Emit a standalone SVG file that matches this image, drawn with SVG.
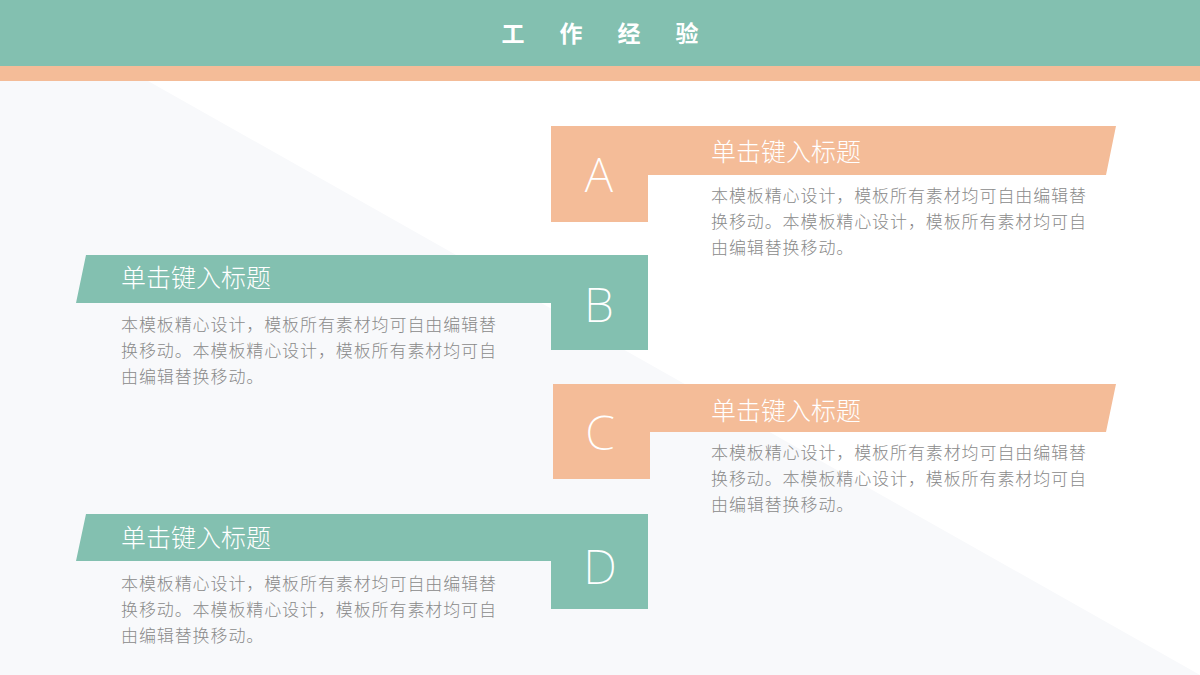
<svg xmlns="http://www.w3.org/2000/svg" width="1200" height="675" viewBox="0 0 1200 675">
<style>
.teal{fill:#83c0b0}
.orange{fill:#f4bc98}
.letter{font-family:"Noto Sans","Noto Sans CJK SC",sans-serif;font-weight:200;font-size:48px;fill:#ffffff;text-anchor:middle}
.title{font-family:"Noto Sans CJK SC","Noto Sans",sans-serif;font-weight:300;font-size:25px;fill:#ffffff}
.body{font-family:"Noto Sans CJK SC","Noto Sans",sans-serif;font-weight:300;font-size:17px;letter-spacing:0.9px;fill:#8a8a8a}
.head{font-family:"Noto Sans CJK SC",sans-serif;font-weight:700;font-size:23px;fill:#ffffff;text-anchor:middle}
</style>
<rect x="0" y="0" width="1200" height="675" fill="#ffffff"/>
<polygon points="0,81 148,81 1200,675 0,675" fill="#f8f9fb"/>
<rect x="0" y="0" width="1200" height="66" class="teal"/>
<rect x="0" y="66" width="1200" height="15" class="orange"/>
<g id="header">
<text class="head" x="513" y="42">工</text>
<text class="head" x="571" y="42">作</text>
<text class="head" x="629" y="42">经</text>
<text class="head" x="687" y="42">验</text>
</g>
<g id="node-a">
<polygon class="orange" points="551,126 1116,126 1106,175 648,175 648,222 551,222"/>
<text class="letter" x="599" y="192">A</text>
<text class="title" x="711" y="161">单击键入标题</text>
<text class="body" x="711" y="202">本模板精心设计，模板所有素材均可自由编辑替</text>
<text class="body" x="711" y="228">换移动。本模板精心设计，模板所有素材均可自</text>
<text class="body" x="711" y="254">由编辑替换移动。</text>
</g>
<g id="node-b">
<polygon class="teal" points="86,255 648,255 648,350 551,350 551,303 76,303"/>
<text class="letter" x="599" y="322">B</text>
<text class="title" x="121" y="287">单击键入标题</text>
<text class="body" x="121" y="331">本模板精心设计，模板所有素材均可自由编辑替</text>
<text class="body" x="121" y="357">换移动。本模板精心设计，模板所有素材均可自</text>
<text class="body" x="121" y="383">由编辑替换移动。</text>
</g>
<g id="node-c">
<polygon class="orange" points="553,384 1116,384 1106,432 650,432 650,479 553,479"/>
<text class="letter" x="600" y="450">C</text>
<text class="title" x="711" y="420">单击键入标题</text>
<text class="body" x="711" y="459">本模板精心设计，模板所有素材均可自由编辑替</text>
<text class="body" x="711" y="485">换移动。本模板精心设计，模板所有素材均可自</text>
<text class="body" x="711" y="511">由编辑替换移动。</text>
</g>
<g id="node-d">
<polygon class="teal" points="86,514 648,514 648,609 551,609 551,561 76,561"/>
<text class="letter" x="600" y="584">D</text>
<text class="title" x="121" y="547">单击键入标题</text>
<text class="body" x="121" y="590">本模板精心设计，模板所有素材均可自由编辑替</text>
<text class="body" x="121" y="616">换移动。本模板精心设计，模板所有素材均可自</text>
<text class="body" x="121" y="642">由编辑替换移动。</text>
</g>
<g id="connectors"></g>
</svg>
